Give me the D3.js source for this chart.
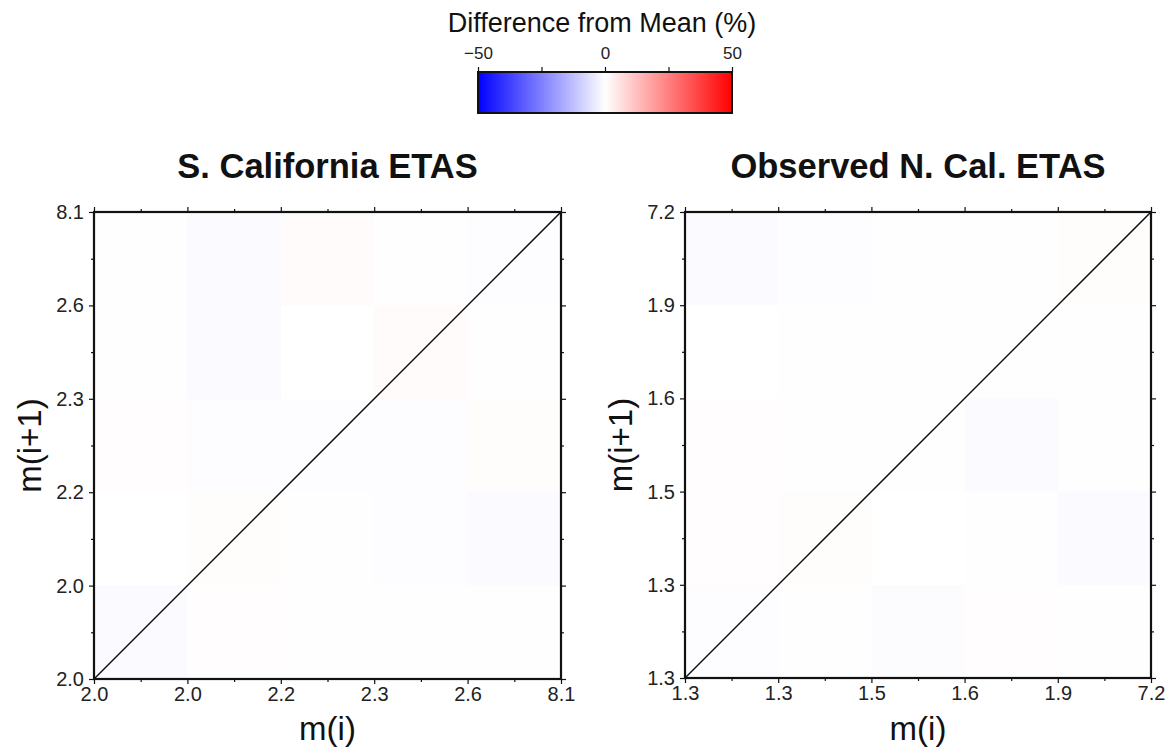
<!DOCTYPE html>
<html lang="en">
<head>
    <meta charset="UTF-8">
    <title>Difference from Mean - ETAS</title>
    <script src="https://d3js.org/d3.v7.min.js"></script>
    <style>
        body {
            margin: 0;
            background: white;
            font-family: "Liberation Sans", Arial, Helvetica, sans-serif;
        }
        .axis-title {
            font-size: 33px;
            fill: #111;
            text-anchor: middle;
        }
        .panel-title {
            font-size: 34.5px;
            font-weight: bold;
            fill: #111;
            text-anchor: middle;
        }
    </style>
</head>
<body>
    <svg id="chart"></svg>

    <script>
        // bin edge labels (bottom -> top / left -> right)
        const sCalLabels = ["2.0", "2.0", "2.2", "2.3", "2.6", "8.1"];
        const nCalLabels = ["1.3", "1.3", "1.5", "1.6", "1.9", "7.2"];

        // difference from mean (%), rows listed from top (highest m(i+1)) to bottom
        const sCalValues = [
            [-0.2, -0.9,  0.7, -0.1, -0.3],
            [-0.1, -0.9,  0.0,  0.8, -0.1],
            [ 0.4, -0.3, -0.4, -0.4,  0.6],
            [ 0.0,  0.5, -0.1, -0.3, -0.7],
            [-0.9,  0.4, -0.1, -0.1,  0.2]
        ];
        const nCalValues = [
            [-0.7, -0.3, -0.1, -0.1,  0.6],
            [ 0.0, -0.1,  0.1, -0.1, -0.1],
            [ 0.3, -0.1,  0.2, -0.7, -0.1],
            [ 0.3,  0.5,  0.0, -0.2, -0.8],
            [-0.4, -0.1, -0.6,  0.4,  0.2]
        ];

        const colorTicks = [-50, -25, 0, 25, 50];
        const colorLabels = { "-50": "\u221250", "0": "0", "50": "50" };

        const width = 1173, height = 752;
        const svg = d3.select("#chart").attr("width", width).attr("height", height);

        const color = d3.scaleLinear()
            .domain([-50, 0, 50])
            .range(["#0000ff", "#ffffff", "#ff0000"]);

        // colour bar
        const cb = { left: 478, right: 732, top: 72, bottom: 113 };
        const cbScale = d3.scaleLinear().domain([-50, 50]).range([cb.left, cb.right]);

        const defs = svg.append("defs");
        const grad = defs.append("linearGradient")
            .attr("id", "cbGradient")
            .attr("x1", "0%").attr("x2", "100%").attr("y1", "0%").attr("y2", "0%");
        d3.range(0, 1.0001, 0.1).forEach(t => {
            grad.append("stop")
                .attr("offset", (t * 100) + "%")
                .attr("stop-color", color(-50 + t * 100));
        });

        svg.append("rect")
            .attr("x", cb.left).attr("y", cb.top)
            .attr("width", cb.right - cb.left).attr("height", cb.bottom - cb.top)
            .attr("fill", "url(#cbGradient)")
            .attr("stroke", "#111").attr("stroke-width", 2);

        const cbAxis = svg.append("g")
            .attr("transform", `translate(0,${cb.top})`)
            .call(d3.axisTop(cbScale)
                .tickValues(colorTicks)
                .tickSize(5)
                .tickPadding(8)
                .tickFormat(d => colorLabels[d] || ""));
        cbAxis.select(".domain").remove();
        cbAxis.selectAll("line").attr("stroke", "#111").attr("stroke-width", 1.2);
        cbAxis.selectAll("text")
            .attr("font-size", 17)
            .attr("font-family", "'Liberation Sans', Arial, sans-serif")
            .attr("fill", "#222");

        svg.append("text")
            .attr("x", (cb.left + cb.right) / 2 - 3)
            .attr("y", 32)
            .attr("text-anchor", "middle")
            .style("font-size", "27px")
            .attr("fill", "#111")
            .text("Difference from Mean (%)");

        // one panel
        function drawPanel(opts) {
            const { left, top, size, labels, values, title } = opts;
            const n = values.length;
            const x = d3.scaleLinear().domain([0, n]).range([left, left + size]);
            const y = d3.scaleLinear().domain([0, n]).range([top + size, top]);

            const g = svg.append("g");

            // cells
            const cells = [];
            values.forEach((row, r) => {
                row.forEach((v, c) => cells.push({ col: c, row: n - 1 - r, v: v }));
            });
            g.selectAll("rect.cell")
                .data(cells)
                .enter().append("rect")
                .attr("class", "cell")
                .attr("x", d => x(d.col))
                .attr("y", d => y(d.row + 1))
                .attr("width", d => x(d.col + 1) - x(d.col) + 0.5)
                .attr("height", d => y(d.row) - y(d.row + 1) + 0.5)
                .attr("fill", d => color(d.v));

            // diagonal m(i) = m(i+1)
            g.append("line")
                .attr("x1", x(0)).attr("y1", y(0))
                .attr("x2", x(n)).attr("y2", y(n))
                .attr("stroke", "#111").attr("stroke-width", 1.5);

            const major = d3.range(n + 1);
            const minor = d3.range(n).map(i => i + 0.5);

            function addAxis(axisFn, scale, transform, withLabels, pad) {
                const a = g.append("g")
                    .attr("transform", transform)
                    .call(axisFn(scale).tickValues(major).tickSize(5).tickPadding(pad)
                        .tickFormat(i => withLabels ? labels[i] : ""));
                a.attr("font-size", 20)
                    .attr("font-family", "'Liberation Sans', Arial, sans-serif");
                a.select(".domain").remove();
                a.selectAll("line").attr("stroke", "#111").attr("stroke-width", 1.2);
                a.selectAll("text").attr("fill", "#222");
                const m = g.append("g")
                    .attr("transform", transform)
                    .call(axisFn(scale).tickValues(minor).tickSize(3).tickFormat(""));
                m.select(".domain").remove();
                m.selectAll("line").attr("stroke", "#111").attr("stroke-width", 1.2);
            }

            addAxis(d3.axisBottom, x, `translate(0,${top + size})`, true, 3);
            addAxis(d3.axisTop, x, `translate(0,${top})`, false, 3);
            addAxis(d3.axisLeft, y, `translate(${left},0)`, true, 5);
            addAxis(d3.axisRight, y, `translate(${left + size},0)`, false, 3);

            // frame
            g.append("rect")
                .attr("x", left).attr("y", top)
                .attr("width", size).attr("height", size)
                .attr("fill", "none")
                .attr("stroke", "#111").attr("stroke-width", 2.2);

            svg.append("text")
                .attr("class", "panel-title")
                .attr("x", left + size / 2)
                .attr("y", 178)
                .text(title);

            svg.append("text")
                .attr("class", "axis-title")
                .attr("x", left + size / 2)
                .attr("y", 740)
                .text("m(i)");

            svg.append("text")
                .attr("class", "axis-title")
                .attr("transform", `translate(${left - 53},${top + size / 2}) rotate(-90)`)
                .text("m(i+1)");
        }

        drawPanel({ left: 94, top: 212, size: 467, labels: sCalLabels, values: sCalValues, title: "S. California ETAS" });
        drawPanel({ left: 685, top: 212, size: 466, labels: nCalLabels, values: nCalValues, title: "Observed N. Cal. ETAS" });
    </script>
</body>
</html>
